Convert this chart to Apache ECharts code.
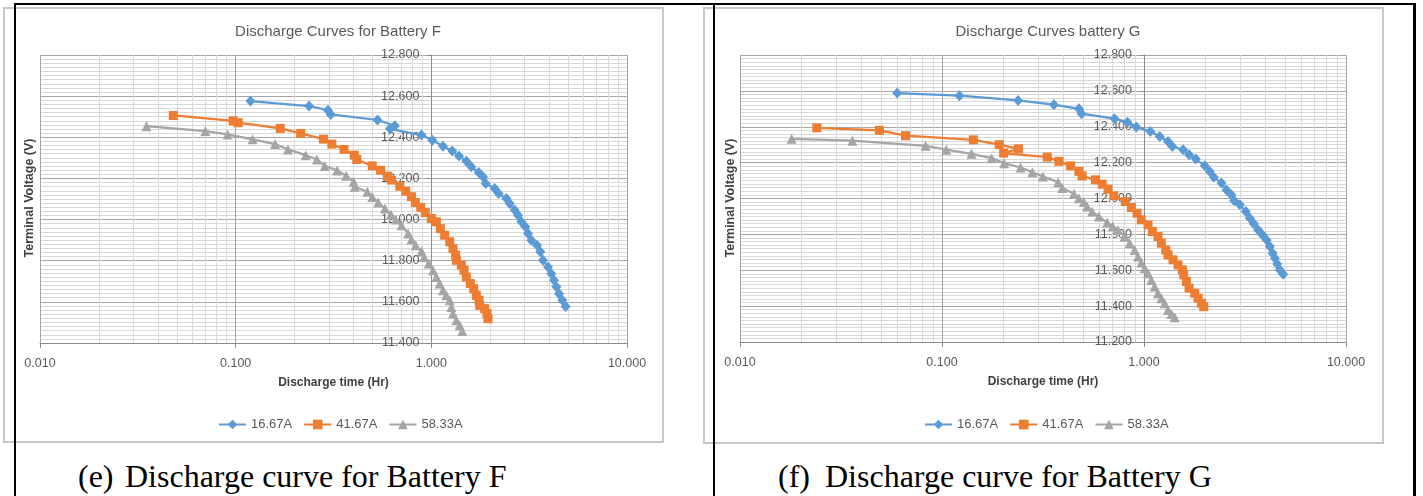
<!DOCTYPE html>
<html>
<head>
<meta charset="utf-8">
<script src="https://cdn.jsdelivr.net/npm/echarts@6/dist/echarts.min.js"></script>
<style>
html,body{margin:0;padding:0;background:#fff;}
#page{position:relative;width:1423px;height:496px;overflow:hidden;}
.box{position:absolute;border:2px solid #c8c8c8;box-sizing:border-box;background:#fff;}
.rule{position:absolute;background:#000;z-index:3;}
.cap{position:absolute;top:459px;font-family:'Liberation Serif','Times New Roman',serif;font-size:32px;line-height:34px;color:#000;white-space:nowrap;}
#chart{position:absolute;left:0;top:0;width:1423px;height:496px;z-index:2;}
</style>
</head>
<body>
<div id="page">
  <div class="box" style="left:3px;top:7px;width:661px;height:436px;"></div>
  <div class="box" style="left:703px;top:7px;width:681px;height:437px;"></div>
  <div id="chart"></div>
  <div class="rule" style="left:14px;top:3px;width:1402px;height:2px;"></div>
  <div class="rule" style="left:14px;top:3px;width:2px;height:493px;"></div>
  <div class="rule" style="left:713px;top:3px;width:2px;height:493px;"></div>
  <div class="rule" style="left:1413px;top:3px;width:3px;height:493px;"></div>
  <div class="cap" style="left:78px;">(e)</div>
  <div class="cap" style="left:125px;">Discharge curve for Battery F</div>
  <div class="cap" style="left:778px;">(f)</div>
  <div class="cap" style="left:825px;">Discharge curve for Battery G</div>
</div>
<script>
// ---- data ----
var seriesNames = ['16.67A', '41.67A', '58.33A'];

// battery F
var fTime16 = [0.119, 0.237, 0.296, 0.306, 0.531, 0.651, 0.614, 0.890, 1.012, 1.147,
               1.280, 1.385, 1.510, 1.601, 1.746, 1.837, 1.896, 2.107, 2.208, 2.417,
               2.514, 2.666, 2.773, 2.884, 3.023, 3.119, 3.244, 3.467, 3.606, 3.722,
               3.947, 4.105, 4.237, 4.354, 4.493, 4.673, 4.859];
var fVolt16 = [12.576, 12.552, 12.532, 12.511, 12.484, 12.456, 12.441, 12.411, 12.386, 12.357,
               12.333, 12.309, 12.284, 12.257, 12.229, 12.208, 12.175, 12.151, 12.127, 12.102,
               12.078, 12.046, 12.021, 11.989, 11.965, 11.932, 11.900, 11.875, 11.843, 11.802,
               11.770, 11.737, 11.705, 11.673, 11.640, 11.608, 11.578];
var fTime41 = [0.048, 0.097, 0.103, 0.169, 0.215, 0.281, 0.310, 0.358, 0.404, 0.416,
               0.499, 0.550, 0.595, 0.626, 0.690, 0.740, 0.791, 0.829, 0.883, 0.932,
               1.000, 1.061, 1.112, 1.170, 1.241, 1.290, 1.331, 1.342, 1.423, 1.469,
               1.510, 1.582, 1.646, 1.698, 1.752, 1.766, 1.873, 1.925, 1.948];
var fVolt41 = [12.506, 12.480, 12.471, 12.443, 12.419, 12.391, 12.367, 12.341, 12.313, 12.292,
               12.261, 12.240, 12.211, 12.192, 12.162, 12.138, 12.111, 12.083, 12.059, 12.034,
               12.005, 11.989, 11.956, 11.924, 11.892, 11.859, 11.827, 11.802, 11.778, 11.754,
               11.721, 11.689, 11.664, 11.632, 11.608, 11.583, 11.567, 11.543, 11.518];
var fTime58 = [0.035, 0.070, 0.091, 0.122, 0.159, 0.185, 0.228, 0.260, 0.285, 0.330,
               0.367, 0.401, 0.406, 0.471, 0.499, 0.536, 0.579, 0.621, 0.659, 0.704,
               0.761, 0.791, 0.832, 0.890, 0.918, 0.969, 1.020, 1.061, 1.103, 1.147,
               1.193, 1.241, 1.265, 1.290, 1.342, 1.396, 1.440];
var fVolt58 = [12.454, 12.430, 12.414, 12.390, 12.367, 12.341, 12.313, 12.292, 12.261, 12.239,
               12.213, 12.184, 12.159, 12.135, 12.110, 12.083, 12.054, 12.025, 12.000, 11.973,
               11.932, 11.903, 11.875, 11.846, 11.818, 11.786, 11.754, 11.721, 11.689, 11.656,
               11.632, 11.608, 11.575, 11.543, 11.510, 11.486, 11.458];

// battery G
var gTime16 = [0.060, 0.122, 0.238, 0.358, 0.476, 0.491, 0.714, 0.828, 0.916, 1.075,
               1.196, 1.315, 1.382, 1.561, 1.672, 1.804, 2.000, 2.117, 2.216, 2.418,
               2.561, 2.711, 2.795, 2.981, 3.192, 3.342, 3.498, 3.675, 3.863, 4.044,
               4.200, 4.329, 4.445, 4.566, 4.707, 4.890];
var gVolt16 = [12.588, 12.573, 12.547, 12.523, 12.500, 12.473, 12.445, 12.425, 12.398, 12.374,
               12.346, 12.318, 12.290, 12.272, 12.244, 12.220, 12.182, 12.151, 12.119, 12.086,
               12.048, 12.020, 11.987, 11.965, 11.927, 11.890, 11.859, 11.825, 11.797, 11.769,
               11.732, 11.695, 11.667, 11.635, 11.602, 11.578];
var gTime41 = [0.024, 0.049, 0.066, 0.143, 0.192, 0.239, 0.202, 0.332, 0.379, 0.433,
               0.476, 0.494, 0.575, 0.621, 0.664, 0.709, 0.809, 0.866, 0.924, 0.970,
               1.047, 1.100, 1.173, 1.219, 1.281, 1.315, 1.392, 1.474, 1.549, 1.573,
               1.621, 1.672, 1.783, 1.853, 1.924, 1.976];
var gVolt41 = [12.394, 12.380, 12.350, 12.327, 12.300, 12.277, 12.253, 12.231, 12.207, 12.182,
               12.151, 12.126, 12.104, 12.080, 12.052, 12.015, 11.983, 11.950, 11.918, 11.881,
               11.853, 11.816, 11.788, 11.751, 11.713, 11.686, 11.658, 11.630, 11.602, 11.574,
               11.537, 11.500, 11.472, 11.444, 11.416, 11.397];
var gTime58 = [0.018, 0.036, 0.083, 0.105, 0.140, 0.176, 0.203, 0.245, 0.280, 0.316,
               0.376, 0.394, 0.450, 0.476, 0.504, 0.523, 0.554, 0.598, 0.657, 0.700,
               0.743, 0.802, 0.849, 0.899, 0.934, 0.970, 1.008, 1.047, 1.087, 1.129,
               1.173, 1.219, 1.266, 1.315, 1.366, 1.419];
var gVolt58 = [12.333, 12.322, 12.294, 12.272, 12.249, 12.225, 12.197, 12.173, 12.147, 12.123,
               12.091, 12.058, 12.026, 12.002, 11.980, 11.955, 11.927, 11.900, 11.866, 11.845,
               11.825, 11.788, 11.751, 11.713, 11.676, 11.643, 11.611, 11.583, 11.546, 11.509,
               11.472, 11.444, 11.416, 11.379, 11.356, 11.338];

// axis ranges
var xMin = 0.01, xMax = 10;
var yStep = 0.2;
var yMinF = 11.4, yMaxF = 12.8;
var yMinG = 11.2, yMaxG = 12.8;
var minorDecades = [0.01, 0.1, 1];
var minorSteps = [2, 3, 4, 5, 6, 7, 8, 9];

// ---- styling ----
var FONT = "'Liberation Sans', Arial, sans-serif";
var colors = ['#5B9BD5', '#ED7D31', '#A5A5A5'];
var symbols = ['diamond', 'rect', 'triangle'];
var symbolSizes = [[10, 11], 9, 10];
var gridF = {left: 40, top: 55, width: 587, height: 288};
var gridG = {left: 740, top: 55, width: 606, height: 287};

function pairs(t, v) {
    var out = [];
    for (var i = 0; i < t.length; i++) out.push([t[i], v[i]]);
    return out;
}

function minorLines() {
    var d = [];
    for (var i = 0; i < minorDecades.length; i++) {
        for (var j = 0; j < minorSteps.length; j++) {
            d.push({xAxis: +(minorDecades[i] * minorSteps[j]).toFixed(4)});
        }
    }
    return d;
}

function xAxisCfg(gi) {
    return {
        type: 'log', logBase: 10, gridIndex: gi, min: xMin, max: xMax,
        axisLine: {show: true, onZero: false, lineStyle: {color: '#8c8c8c', width: 1}},
        axisTick: {show: true, length: 5, lineStyle: {color: '#8c8c8c'}},
        axisLabel: {
            margin: 14, color: '#595959', fontSize: 12.5, fontFamily: FONT,
            showMinLabel: true, showMaxLabel: true,
            formatter: function (v) { return Number(v).toFixed(3); }
        },
        splitLine: {show: true, lineStyle: {color: '#a6a6a6', width: 1}},
        name: 'Discharge time (Hr)', nameLocation: 'middle', nameGap: 34,
        nameTextStyle: {fontWeight: 'bold', fontSize: 12, color: '#404040', fontFamily: FONT}
    };
}

function yAxisCfg(gi, min, max, grid) {
    return {
        type: 'value', gridIndex: gi, min: min, max: max, interval: yStep,
        position: 'left', offset: -grid.width * 2 / 3,
        axisLine: {show: true, onZero: false, lineStyle: {color: '#8c8c8c', width: 1}},
        axisTick: {show: true, length: 4, lineStyle: {color: '#8c8c8c'}},
        axisLabel: {
            margin: 12, color: '#595959', fontSize: 12.5, fontFamily: FONT,
            formatter: function (v) { return v.toFixed(3); }
        },
        splitLine: {show: true, lineStyle: {color: '#a6a6a6', width: 1}},
        minorTick: {show: false, splitNumber: 10},
        minorSplitLine: {show: true, lineStyle: {color: '#d9d9d9', width: 1}}
    };
}

function lineSeries(gi, k, t, v) {
    var s = {
        name: seriesNames[k], type: 'line', xAxisIndex: gi, yAxisIndex: gi,
        data: pairs(t, v), z: 3,
        symbol: symbols[k], symbolSize: symbolSizes[k], showSymbol: true, showAllSymbol: true,
        itemStyle: {color: colors[k]},
        lineStyle: {color: colors[k], width: 2.25},
        animation: false
    };
    if (k === 0) {
        s.markLine = {
            silent: true, symbol: ['none', 'none'], z: 1, animation: false,
            label: {show: false},
            lineStyle: {color: '#d9d9d9', width: 1, type: 'solid'},
            data: minorLines()
        };
    }
    return s;
}

function legendCfg(left) {
    return {
        left: left, top: 413, itemWidth: 27, itemHeight: 12, itemGap: 11,
        data: seriesNames,
        textStyle: {color: '#595959', fontSize: 13, fontFamily: FONT}
    };
}

var chart = echarts.init(document.getElementById('chart'), null, {renderer: 'canvas'});
chart.setOption({
    backgroundColor: 'transparent',
    animation: false,
    title: [
        {text: 'Discharge Curves for Battery F', left: 333, top: 19, textAlign: 'center',
         textStyle: {color: '#595959', fontSize: 15, fontWeight: 'normal', fontFamily: FONT}},
        {text: 'Discharge Curves battery G', left: 1043, top: 19, textAlign: 'center',
         textStyle: {color: '#595959', fontSize: 15, fontWeight: 'normal', fontFamily: FONT}}
    ],
    legend: [legendCfg(213), legendCfg(919)],
    grid: [gridF, gridG],
    xAxis: [xAxisCfg(0), xAxisCfg(1)],
    yAxis: [yAxisCfg(0, yMinF, yMaxF, gridF), yAxisCfg(1, yMinG, yMaxG, gridG)],
    graphic: [
        {type: 'text', x: 30, y: 198, rotation: Math.PI / 2,
         style: {text: 'Terminal Voltage (V)', align: 'center', verticalAlign: 'middle',
                 font: 'bold 12.5px ' + FONT, fill: '#404040'}},
        {type: 'text', x: 731, y: 198, rotation: Math.PI / 2,
         style: {text: 'Terminal Voltage (V)', align: 'center', verticalAlign: 'middle',
                 font: 'bold 12.5px ' + FONT, fill: '#404040'}}
    ],
    series: [
        lineSeries(0, 0, fTime16, fVolt16),
        lineSeries(0, 1, fTime41, fVolt41),
        lineSeries(0, 2, fTime58, fVolt58),
        lineSeries(1, 0, gTime16, gVolt16),
        lineSeries(1, 1, gTime41, gVolt41),
        lineSeries(1, 2, gTime58, gVolt58)
    ]
});
</script>
</body>
</html>
